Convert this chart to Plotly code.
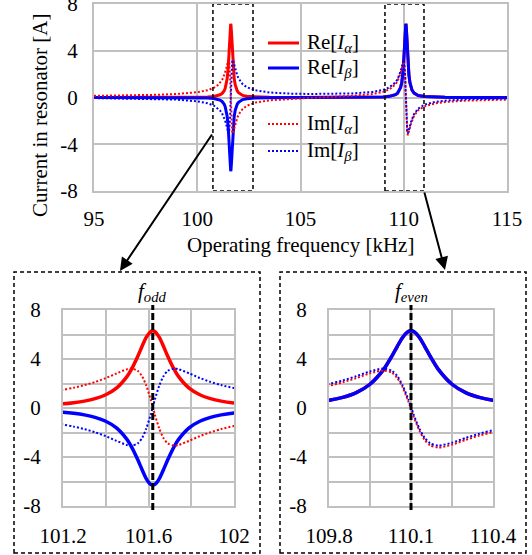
import plotly.graph_objects as go

# ---------------- data ----------------
freq = [95, 96, 97, 98, 99, 100, 100.5, 100.8, 101.0, 101.1, 101.2, 101.25, 101.3, 101.35,
        101.4, 101.45, 101.5, 101.52, 101.55, 101.57, 101.59, 101.61, 101.62, 101.63, 101.65,
        101.67, 101.69, 101.72, 101.74, 101.79, 101.84, 101.89, 101.94, 102.0, 102.1, 102.2,
        102.4, 102.8, 103.5, 104.5, 105.5, 106.5, 107.5, 108.5, 109.0, 109.3, 109.5, 109.6,
        109.7, 109.8, 109.85, 109.9, 109.95, 110.0, 110.03, 110.05, 110.07, 110.09, 110.1,
        110.11, 110.13, 110.15, 110.17, 110.2, 110.25, 110.3, 110.35, 110.4, 110.5, 110.7,
        111.0, 111.5, 112, 113, 114, 115]
re_a = [0.00, 0.00, 0.00, 0.00, 0.01, 0.02, 0.05, 0.09, 0.16, 0.23, 0.34, 0.43, 0.56, 0.76,
        1.08, 1.62, 2.58, 3.15, 4.23, 5.04, 5.78, 6.24, 6.30, 6.24, 5.78, 5.04, 4.23, 3.15,
        2.58, 1.62, 1.08, 0.76, 0.56, 0.41, 0.26, 0.18, 0.10, 0.05, 0.02, 0.01, 0.01, 0.01,
        0.01, 0.03, 0.05, 0.10, 0.17, 0.24, 0.37, 0.63, 0.87, 1.26, 1.94, 3.15, 4.23, 5.04,
        5.78, 6.24, 6.30, 6.24, 5.78, 5.04, 4.23, 3.15, 1.94, 1.26, 0.87, 0.63, 0.37, 0.17,
        0.08, 0.03, 0.02, 0.01, 0.00, 0.00]
re_b = [0.00, 0.00, 0.00, 0.00, -0.01, -0.02, -0.05, -0.09, -0.16, -0.22, -0.34, -0.43, -0.56,
        -0.76, -1.08, -1.62, -2.58, -3.15, -4.23, -5.04, -5.78, -6.24, -6.30, -6.24, -5.78,
        -5.04, -4.23, -3.15, -2.58, -1.62, -1.08, -0.76, -0.56, -0.41, -0.26, -0.18, -0.10,
        -0.04, -0.02, -0.01, 0.00, 0.00, 0.01, 0.02, 0.05, 0.10, 0.17, 0.24, 0.37, 0.63, 0.87,
        1.26, 1.94, 3.15, 4.23, 5.04, 5.78, 6.24, 6.30, 6.24, 5.78, 5.04, 4.23, 3.15, 1.94,
        1.26, 0.87, 0.63, 0.37, 0.17, 0.08, 0.03, 0.02, 0.01, 0.00, 0.00]
im_a = [0.14, 0.16, 0.18, 0.23, 0.30, 0.45, 0.62, 0.83, 1.06, 1.24, 1.49, 1.66, 1.87, 2.12,
        2.44, 2.82, 3.17, 3.22, 3.03, 2.59, 1.81, 0.70, 0.07, -0.55, -1.66, -2.45, -2.89,
        -3.08, -3.02, -2.68, -2.30, -1.98, -1.72, -1.47, -1.18, -0.98, -0.71, -0.44, -0.24,
        -0.11, -0.03, 0.05, 0.14, 0.30, 0.48, 0.69, 0.94, 1.13, 1.40, 1.81, 2.10, 2.44, 2.83,
        3.07, 2.88, 2.44, 1.66, 0.55, -0.08, -0.70, -1.81, -2.60, -3.04, -3.23, -2.99, -2.60,
        -2.25, -1.97, -1.55, -1.09, -0.76, -0.51, -0.39, -0.27, -0.21, -0.18]
im_b = [-0.05, -0.07, -0.09, -0.12, -0.18, -0.33, -0.49, -0.69, -0.92, -1.10, -1.35, -1.52,
        -1.72, -1.98, -2.30, -2.68, -3.03, -3.08, -2.89, -2.45, -1.66, -0.55, 0.07, 0.70, 1.81,
        2.59, 3.03, 3.22, 3.17, 2.83, 2.45, 2.13, 1.87, 1.63, 1.34, 1.14, 0.88, 0.62, 0.43,
        0.33, 0.30, 0.30, 0.35, 0.48, 0.65, 0.86, 1.10, 1.29, 1.56, 1.97, 2.25, 2.60, 2.99,
        3.23, 3.04, 2.60, 1.81, 0.70, 0.08, -0.55, -1.66, -2.44, -2.88, -3.07, -2.83, -2.44,
        -2.10, -1.81, -1.41, -0.95, -0.62, -0.38, -0.27, -0.16, -0.11, -0.08]

f_odd = 101.62
f_even = 110.1
zoom_odd = [100.76, 102.7]    # dashed boxes in the overview
zoom_even = [109.09, 110.98]

y_ticks = [-8, -4, 0, 4, 8]
y_ticktext = ["-8", "-4", "0", "4", "8"]
x_ticks_main = [95, 100, 105, 110, 115]
x_ticks_odd = [101.2, 101.6, 102]
x_ticks_odd_text = ["101.2", "101.6", "102"]
x_ticks_even = [109.8, 110.1, 110.4]
x_ticks_even_text = ["109.8", "110.1", "110.4"]

names = ["Re[<i>I</i><sub><i>α</i></sub>]", "Re[<i>I</i><sub><i>β</i></sub>]",
         "Im[<i>I</i><sub><i>α</i></sub>]", "Im[<i>I</i><sub><i>β</i></sub>]"]

# ---------------- figure ----------------
W, H = 532, 555
FONT = "Liberation Serif, Times New Roman, serif"
FS = 21
RED, BLUE = "#FF0000", "#0000FF"
GRID = "#C0C0C0"

def px(x):
    return x / W

def py(y):
    return 1 - y / H

fig = go.Figure()

series = [(re_a, RED, "solid", 3), (re_b, BLUE, "solid", 3),
          (im_a, RED, "2px,2px", 2), (im_b, BLUE, "2px,2px", 2)]

for k, (ax_x, ax_y) in enumerate([("x", "y"), ("x2", "y2"), ("x3", "y3")]):
    for (vals, col, dash, w), nm in zip(series, names):
        lw = w if (k == 0 or dash != "solid") else 3.5
        fig.add_trace(go.Scatter(x=freq, y=vals, mode="lines", name=nm,
                                 line=dict(color=col, width=lw, dash=dash,
                                           shape="linear" if k == 0 else "spline",
                                           smoothing=0.7),
                                 xaxis=ax_x, yaxis=ax_y, showlegend=False))

ax_common = dict(showgrid=True, gridcolor=GRID, gridwidth=2, showline=True, mirror=True,
                 linecolor=GRID, linewidth=2, zeroline=False, ticks="", automargin=False,
                 ticklabeloverflow="allow",
                 tickfont=dict(family=FONT, size=FS, color="black"))

fig.update_layout(
    template="none",
    width=W, height=H, margin=dict(l=0, r=0, t=0, b=0, autoexpand=False),
    paper_bgcolor="white", plot_bgcolor="white", showlegend=False,
    font=dict(family=FONT, size=FS, color="black"),
    xaxis=dict(domain=[px(94), px(507)], range=[95, 115], tickvals=x_ticks_main,
               anchor="y", ticklabelstandoff=8, **ax_common),
    yaxis=dict(domain=[py(191), py(4)], range=[-8, 8], tickvals=y_ticks, ticktext=y_ticktext,
               anchor="x", ticklabelstandoff=10, **ax_common),
    xaxis2=dict(domain=[px(63), px(234)], range=[101.2, 102], tickvals=x_ticks_odd,
                ticktext=x_ticks_odd_text, anchor="y2", ticklabelstandoff=10,
                minor=dict(tick0=101.2, dtick=0.2, showgrid=True, gridcolor=GRID, gridwidth=2),
                **ax_common),
    yaxis2=dict(domain=[py(506), py(310)], range=[-8, 8], tickvals=y_ticks, ticktext=y_ticktext,
                anchor="x2", ticklabelstandoff=16,
                minor=dict(tick0=-8, dtick=2, showgrid=True, gridcolor=GRID, gridwidth=2),
                **ax_common),
    xaxis3=dict(domain=[px(329), px(493)], range=[109.8, 110.4], tickvals=x_ticks_even,
                ticktext=x_ticks_even_text, anchor="y3", ticklabelstandoff=10,
                minor=dict(tick0=109.8, dtick=0.15, showgrid=True, gridcolor=GRID, gridwidth=2),
                **ax_common),
    yaxis3=dict(domain=[py(506), py(310)], range=[-8, 8], tickvals=y_ticks, ticktext=y_ticktext,
                anchor="x3", ticklabelstandoff=16,
                minor=dict(tick0=-8, dtick=2, showgrid=True, gridcolor=GRID, gridwidth=2),
                **ax_common),
)

shapes = []
box_line = dict(color="black", width=1.5, dash="4px,3px")
# zoom boxes on overview
for z in (zoom_odd, zoom_even):
    shapes.append(dict(type="rect", xref="x", yref="y", x0=z[0], x1=z[1], y0=-8, y1=8,
                       line=box_line))
# outer boxes around the zoomed panels
for x0, x1 in ((14, 260), (280, 526)):
    shapes.append(dict(type="rect", xref="paper", yref="paper", x0=px(x0), x1=px(x1),
                       y0=py(553), y1=py(272), line=box_line))
# resonance markers
for xr, fx in (("x2", f_odd), ("x3", f_even)):
    shapes.append(dict(type="line", xref=xr, yref="paper", x0=fx, x1=fx,
                       y0=py(510), y1=py(305),
                       line=dict(color="black", width=3, dash="7px,3px")))
# legend samples
leg_y = [43, 68, 124, 151]
for (vals, col, dash, w), yy in zip(series, leg_y):
    shapes.append(dict(type="line", xref="paper", yref="paper", x0=px(268), x1=px(299),
                       y0=py(yy), y1=py(yy), line=dict(color=col, width=w, dash=dash)))
fig.update_layout(shapes=shapes)

ann = []
for nm, yy in zip(names, leg_y):
    ann.append(dict(text=nm, xref="paper", yref="paper", x=px(305), y=py(yy),
                    xanchor="left", yanchor="middle", showarrow=False,
                    font=dict(family=FONT, size=FS)))
ann.append(dict(text="Current in resonator [A]", xref="paper", yref="paper",
                x=px(40), y=py(115), textangle=-90, showarrow=False,
                xanchor="center", yanchor="middle", font=dict(family=FONT, size=FS)))
ann.append(dict(text="Operating frequency [kHz]", xref="paper", yref="paper",
                x=px(300), y=py(245), showarrow=False, xanchor="center", yanchor="middle",
                font=dict(family=FONT, size=FS)))
ann.append(dict(text="<i>f</i><sub><i>odd</i></sub>", xref="x2", yref="paper", x=f_odd,
                y=py(292), showarrow=False, xanchor="center", yanchor="middle",
                font=dict(family=FONT, size=FS)))
ann.append(dict(text="<i>f</i><sub><i>even</i></sub>", xref="x3", yref="paper", x=f_even,
                y=py(292), showarrow=False, xanchor="center", yanchor="middle",
                font=dict(family=FONT, size=FS)))
# arrows from overview boxes to zoomed panels
ann.append(dict(text="", xref="paper", yref="paper", x=px(120), y=py(271),
                ax=93, ay=-138, showarrow=True, arrowhead=2, arrowsize=1.3,
                arrowwidth=2, arrowcolor="black"))
ann.append(dict(text="", xref="paper", yref="paper", x=px(445), y=py(270),
                ax=-21, ay=-79, showarrow=True, arrowhead=2, arrowsize=1.3,
                arrowwidth=2, arrowcolor="black"))
fig.update_layout(annotations=ann)

fig.write_html("out.html", config={"displayModeBar": False},
               post_script="document.body.style.margin='0px';"
                           "document.body.style.overflow='hidden';")
